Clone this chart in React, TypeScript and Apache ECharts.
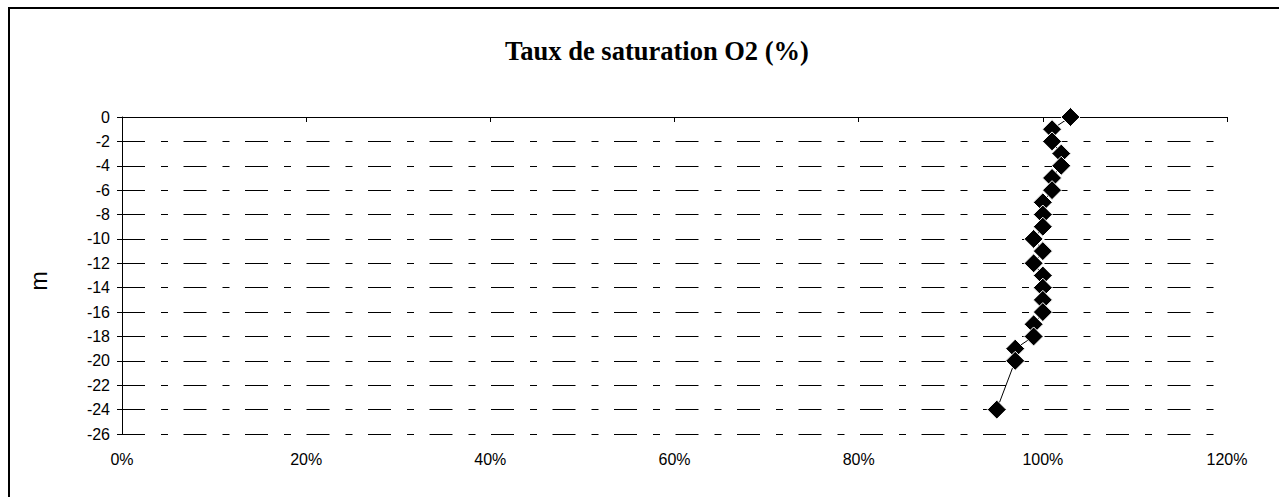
import React, { useEffect, useRef } from "react";
import * as echarts from "echarts";

const depths = [0, -1, -2, -3, -4, -5, -6, -7, -8, -9, -10, -11, -12, -13, -14, -15, -16, -17, -18, -19, -20, -24];
const saturation = [103, 101, 101, 102, 102, 101, 101, 100, 100, 100, 99, 100, 99, 100, 100, 100, 100, 99, 99, 97, 97, 95];
const xTicks = { min: 0, max: 120, interval: 20 };
const yTicks = { min: -26, max: 0, interval: 2 };
const titleText = "Taux de saturation O2 (%)";
const yName = "m";

export default function App() {
  const ref = useRef<HTMLDivElement>(null);
  useEffect(() => {
    document.body.style.margin = "0";
    if (!ref.current) return;
    const chart = echarts.init(ref.current, null, { renderer: "svg" });
    const labelFont = { fontFamily: "Liberation Sans, Arial, sans-serif", fontSize: 16, color: "#000" };
    chart.setOption({
      animation: false,
      backgroundColor: "#fff",
      grid: { left: 122, top: 117, width: 1105, height: 317, containLabel: false },
      graphic: [
        {
          type: "rect",
          shape: { x: 9, y: 8, width: 1400, height: 700 },
          style: { fill: "none", stroke: "#000", lineWidth: 2 },
          silent: true,
        },
        {
          type: "text",
          x: 657,
          y: 51,
          style: {
            text: titleText,
            fontFamily: "Liberation Serif, Times New Roman, serif",
            fontWeight: "bold",
            fontSize: 26.5,
            fill: "#000",
            textAlign: "center",
            textVerticalAlign: "middle",
          },
        },
        {
          type: "text",
          x: 39,
          y: 281,
          rotation: Math.PI / 2,
          style: {
            text: yName,
            fontFamily: "Liberation Sans, Arial, sans-serif",
            fontSize: 23,
            fill: "#000",
            textAlign: "center",
            textVerticalAlign: "middle",
          },
        },
      ],
      xAxis: [
        {
          type: "value",
          ...xTicks,
          position: "top",
          axisLine: { show: true, onZero: false, lineStyle: { color: "#000", width: 1 } },
          axisTick: { show: true, inside: true, length: 5, lineStyle: { color: "#000" } },
          axisLabel: { show: false },
          splitLine: { show: false },
        },
        {
          type: "value",
          ...xTicks,
          position: "bottom",
          axisLine: { show: false, onZero: false },
          axisTick: { show: false },
          axisLabel: { ...labelFont, margin: 17, formatter: "{value}%" },
          splitLine: { show: false },
        },
      ],
      yAxis: {
        type: "value",
        ...yTicks,
        axisLine: { show: true, onZero: false, lineStyle: { color: "#000", width: 1 } },
        axisTick: { show: true, inside: false, length: 5, lineStyle: { color: "#000" } },
        axisLabel: { ...labelFont, margin: 12 },
        splitLine: {
          show: true,
          lineStyle: { color: "#000", width: 1, type: [23, 16, 7, 15.5] },
        },
      },
      series: [
        {
          type: "line",
          xAxisIndex: 0,
          data: depths.map((d, i) => [saturation[i], d]),
          symbol: "diamond",
          symbolSize: 19,
          lineStyle: { color: "#000", width: 1 },
          itemStyle: { color: "#000", borderColor: "#fff", borderWidth: 1 },
        },
      ],
    });
    return () => chart.dispose();
  }, []);
  return <div ref={ref} style={{ width: 1279, height: 497 }} />;
}
